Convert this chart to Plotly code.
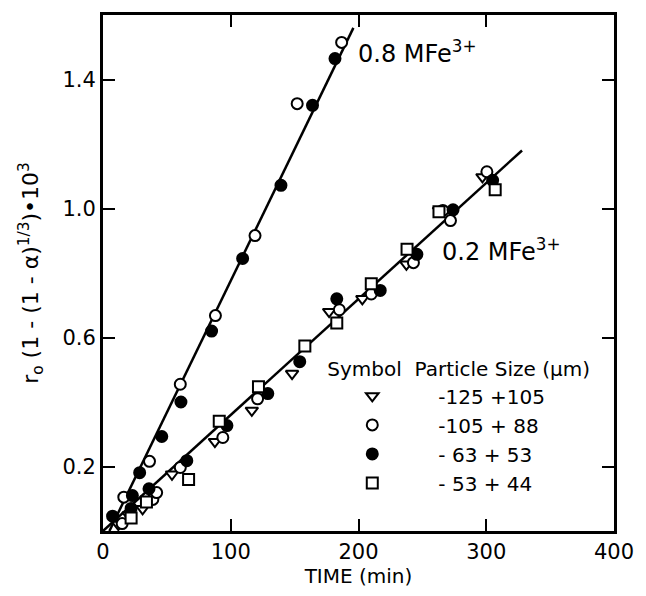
import plotly.graph_objects as go

# ---- data (time in min, value r0(1-(1-a)^1/3)*1e3) ----
tri_t = [12, 20, 31, 54, 87.6, 116.5, 148, 177, 203, 237.5, 263, 297]
tri_v = [0.02, 0.05, 0.069, 0.176, 0.277, 0.374, 0.488, 0.68, 0.72, 0.827, 0.994, 1.098]

open_t = [15, 16.3, 36.4, 60.5, 88, 119, 152, 186.8,
          39, 42, 60.5, 93.8, 121, 185, 210, 243, 266, 272, 300.5]
open_v = [0.023, 0.105, 0.216, 0.455, 0.668, 0.916, 1.325, 1.515,
          0.098, 0.119, 0.197, 0.29, 0.41, 0.686, 0.735, 0.832, 0.994, 0.9625, 1.114]

fill_t = [7.5, 23, 28.7, 46, 61, 85, 109.3, 139.3, 164, 181.6,
          22, 36, 65.6, 97, 129, 154, 183, 217, 245.7, 274, 305]
fill_v = [0.046, 0.11, 0.181, 0.293, 0.40, 0.62, 0.845, 1.072, 1.32, 1.465,
          0.07, 0.131, 0.218, 0.327, 0.426, 0.525, 0.72, 0.746, 0.858, 0.996, 1.0875]

sq_t = [22, 34, 67, 91, 121.7, 158, 183, 210, 238, 263, 307]
sq_v = [0.04, 0.09, 0.16, 0.34, 0.447, 0.574, 0.645, 0.767, 0.874, 0.99, 1.058]

fit08_t = [5, 196]
fit08_v = [0.0, 1.56]
fit02_t = [0, 328]
fit02_v = [0.0, 1.18]

size_labels = ["-125 +105", "-105 + 88", "- 63 + 53", "- 53 + 44"]
x_ticks = [0, 100, 200, 300, 400]
y_ticks = [0.2, 0.6, 1.0, 1.4]
y_ticktext = ["0.2", "0.6", "1.0", "1.4"]

FONT = "DejaVu Sans"
NB = "\u00a0"

fig = go.Figure()
fig.add_trace(go.Scatter(x=fit08_t, y=fit08_v, mode="lines",
                         line=dict(color="black", width=2.5), showlegend=False))
fig.add_trace(go.Scatter(x=fit02_t, y=fit02_v, mode="lines",
                         line=dict(color="black", width=2.5), showlegend=False))

mk = [
    (tri_t, tri_v, "triangle-down", "white", size_labels[0]),
    (open_t, open_v, "circle", "white", size_labels[1]),
    (fill_t, fill_v, "circle", "black", size_labels[2]),
    (sq_t, sq_v, "square", "white", size_labels[3]),
]
for t, v, sym, fc, name in mk:
    fig.add_trace(go.Scatter(
        x=t, y=v, mode="markers", name=NB * 3 + name.replace(" ", NB),
        marker=dict(symbol=sym, size=11, color=fc,
                    line=dict(color="black", width=2))))

axis_common = dict(showline=True, linecolor="black", linewidth=2.8,
                   mirror="ticks", ticks="inside", ticklen=12, tickwidth=2,
                   tickcolor="black", showgrid=False, zeroline=False,
                   tickfont=dict(family=FONT, size=21, color="black"))

fig.update_layout(
    width=646, height=596,
    margin=dict(l=103, r=27, t=12, b=65),
    paper_bgcolor="white", plot_bgcolor="white",
    font=dict(family=FONT, color="black"),
    xaxis=dict(range=[0, 400], tickvals=x_ticks,
               title=dict(text="TIME (min)", font=dict(family=FONT, size=20), standoff=6),
               **axis_common),
    yaxis=dict(range=[0, 1.6], tickvals=y_ticks, ticktext=y_ticktext,
               title=dict(text="r<sub>o</sub> (1 - (1 - α)<sup>1/3</sup>)•10<sup>3</sup>",
                          font=dict(family=FONT, size=22), standoff=18),
               **axis_common),
    legend=dict(x=0.435, y=0.35, xanchor="left", yanchor="top",
                bgcolor="rgba(0,0,0,0)", borderwidth=0,
                title=dict(text="Symbol" + NB + NB + "Particle Size (μm)",
                           font=dict(family=FONT, size=20)),
                font=dict(family=FONT, size=20), itemwidth=84,
                tracegroupgap=0),
    annotations=[
        dict(x=198, y=1.485, xref="x", yref="y", xanchor="left", yanchor="middle",
             text="0.8 MFe<sup>3+</sup>", showarrow=False,
             font=dict(family=FONT, size=24)),
        dict(x=264, y=0.87, xref="x", yref="y", xanchor="left", yanchor="middle",
             text="0.2 MFe<sup>3+</sup>", showarrow=False,
             font=dict(family=FONT, size=24)),
    ],
)

fig.write_html("out.html")
